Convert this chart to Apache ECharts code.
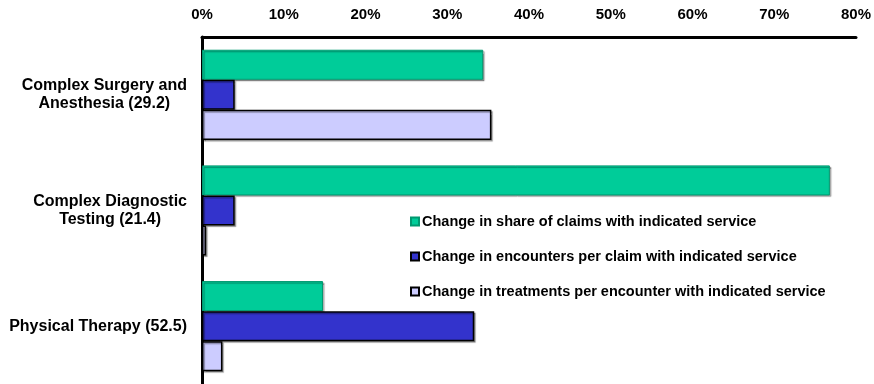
<!DOCTYPE html>
<html>
<head>
<meta charset="utf-8">
<script src="https://cdn.jsdelivr.net/npm/echarts@6/dist/echarts.min.js"></script>
<style>
  html, body { margin: 0; padding: 0; background: #fff; }
  #chart { width: 874px; height: 384px; }
</style>
</head>
<body>
<div id="chart"></div>
<script>
// Service categories (average count in parentheses)
const categories = [
  'Complex Surgery and\nAnesthesia (29.2)',
  'Complex Diagnostic\nTesting (21.4)',
  'Physical Therapy (52.5)'
];

const seriesNames = [
  'Change in share of claims with indicated service',
  'Change in encounters per claim with indicated service',
  'Change in treatments per encounter with indicated service'
];

// Percent change for each category
const shareOfClaims = [34.4, 76.8, 14.8];
const encountersPerClaim = [4.0, 4.0, 33.3];
const treatmentsPerEncounter = [35.4, 0.5, 2.5];

const tickValues = [0, 10, 20, 30, 40, 50, 60, 70, 80];

const FONT = '"Liberation Sans", Arial, sans-serif';

const styles = [
  { color: '#00CC99', borderColor: '#009970', borderWidth: 1 },
  { color: '#3333CC', borderColor: '#000000', borderWidth: 1.5 },
  { color: '#CCCCFF', borderColor: '#000000', borderWidth: 1.5 }
];
const values = [shareOfClaims, encountersPerClaim, treatmentsPerEncounter];

const chart = echarts.init(document.getElementById('chart'), null, { renderer: 'canvas' });

chart.setOption({
  animation: false,
  backgroundColor: '#ffffff',
  grid: { left: 202, top: 37, width: 656, height: 349, containLabel: false },
  legend: {
    orient: 'vertical',
    left: 405,
    top: 209,
    itemWidth: 8,
    itemHeight: 8,
    itemGap: 20,
    icon: 'rect',
    textStyle: {
      fontFamily: FONT, fontWeight: 'bold', fontSize: 14.5, color: '#000',
      padding: [0, 0, 0, -2]
    },
    data: seriesNames
  },
  xAxis: {
    type: 'value',
    position: 'top',
    min: tickValues[0],
    max: tickValues[tickValues.length - 1],
    interval: 10,
    axisLine: { show: true, lineStyle: { color: '#000', width: 3 } },
    axisTick: { show: false },
    splitLine: { show: false },
    axisLabel: {
      margin: 15,
      formatter: '{value}%',
      fontFamily: FONT, fontWeight: 'bold', fontSize: 15, color: '#000'
    }
  },
  yAxis: {
    type: 'category',
    inverse: true,
    data: categories,
    axisLine: { show: true, lineStyle: { color: '#000', width: 3 } },
    axisTick: { show: false },
    axisLabel: {
      margin: 15,
      align: 'right',
      lineHeight: 18,
      fontFamily: FONT, fontWeight: 'bold', fontSize: 16, color: '#000',
      formatter: function (v) {
        return v.split('\n').map(function (s) { return '{c|' + s + '}'; }).join('\n');
      },
      rich: {
        c: { align: 'center', fontFamily: FONT, fontWeight: 'bold', fontSize: 16, color: '#000', lineHeight: 18 }
      }
    }
  },
  series: seriesNames.map(function (name, i) {
    return {
      name: name,
      type: 'bar',
      data: values[i],
      barGap: '0%',
      barCategoryGap: '22%',
      itemStyle: Object.assign({
        shadowColor: 'rgba(0,0,0,0.35)',
        shadowOffsetX: 1.5,
        shadowOffsetY: 1.5,
        shadowBlur: 1
      }, styles[i])
    };
  })
});
</script>
</body>
</html>
